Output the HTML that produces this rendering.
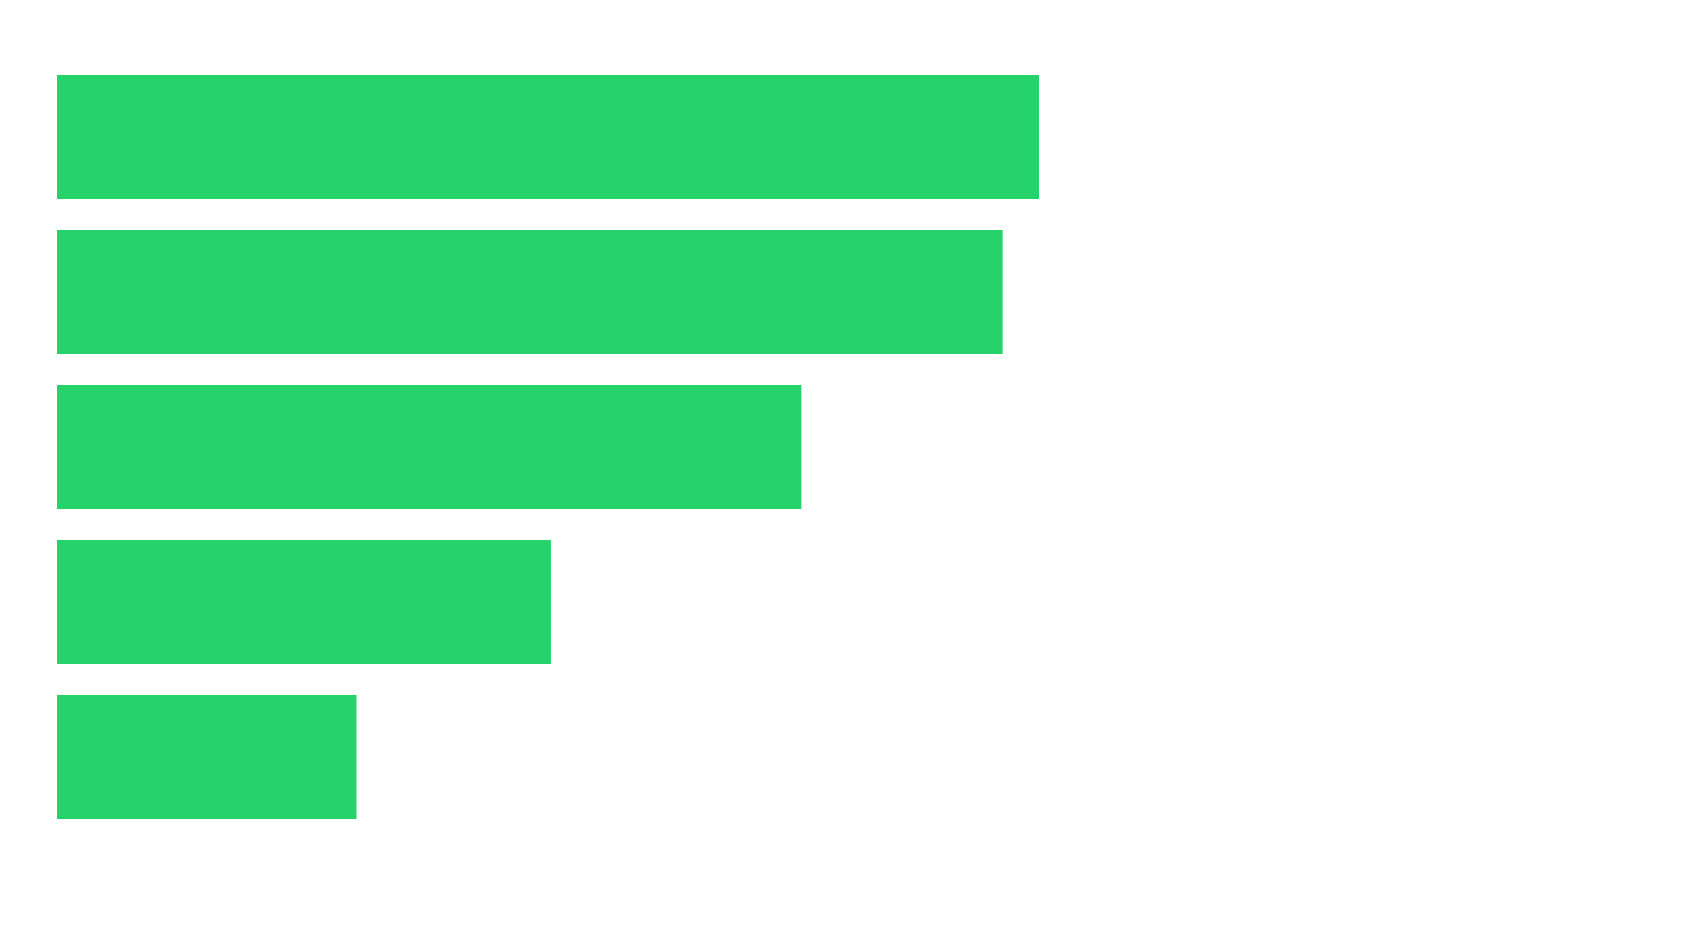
<!DOCTYPE html>
<html><head><meta charset="utf-8"><style>html,body{margin:0;padding:0;background:#fff;}svg{display:block;}</style></head>
<body>
<svg id="chart" width="1691" height="947" xmlns="http://www.w3.org/2000/svg"></svg>
<script>
const categories = ["a","b","c","d","e"];
const values = [100, 96.3, 75.8, 50.3, 30.5];
const svg = document.getElementById('chart');
const x0 = 57, xw = 982, xmax = 100;
const top0 = 75, step = 155, bh = 124;
function xScale(v){ return x0 + v / xmax * xw; }
function yScale(i){ return top0 + i * step; }
categories.forEach((c, i) => {
  const r = document.createElementNS('http://www.w3.org/2000/svg','rect');
  r.setAttribute('x', x0);
  r.setAttribute('y', yScale(i));
  r.setAttribute('width', xScale(values[i]) - x0);
  r.setAttribute('height', bh);
  r.setAttribute('fill', '#26d36a');
  
  
  svg.appendChild(r);
});
</script>
</body></html>
